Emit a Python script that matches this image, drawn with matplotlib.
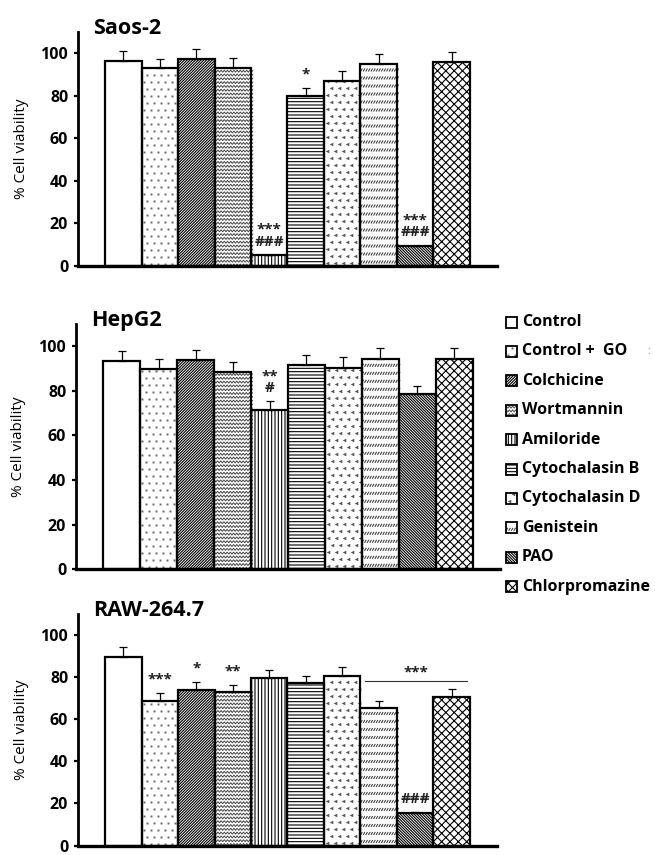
import matplotlib
matplotlib.use('Agg')
import matplotlib.pyplot as plt
import numpy as np
from matplotlib.transforms import Affine2D
from matplotlib.collections import LineCollection
from matplotlib.lines import Line2D
from matplotlib.patches import Rectangle

plt.rcParams['font.family'] = ['Open Sans', 'DejaVu Sans']
plt.rcParams['font.weight'] = 'bold'
plt.rcParams['hatch.linewidth'] = 0.8

treatments = ['Control', 'Control +  GO', 'Colchicine', 'Wortmannin', 'Amiloride',
              'Cytochalasin B', 'Cytochalasin D', 'Genistein', 'PAO', 'Chlorpromazine']

saos_mean = [96.4, 92.8, 97.2, 93.1, 5.2, 80.0, 86.9, 94.7, 9.5, 95.9]
saos_sd = [4.6, 4.4, 4.7, 4.7, 0.0, 3.7, 4.6, 4.7, 0.0, 4.7]
hepg2_mean = [93.3, 89.6, 93.6, 88.4, 71.5, 91.5, 90.3, 94.3, 78.5, 94.2]
hepg2_sd = [4.5, 4.6, 4.5, 4.3, 3.7, 4.6, 4.8, 4.8, 3.6, 4.8]
raw_mean = [89.5, 68.5, 73.7, 72.6, 79.5, 77.2, 80.6, 65.4, 15.5, 70.3]
raw_sd = [4.4, 3.8, 3.8, 3.7, 3.9, 3.4, 3.9, 3.0, 0.4, 3.8]

# significance marks: (bar index, label)
saos_marks = [(4, '***\n###'), (5, '*'), (8, '***\n###')]
hepg2_marks = [(4, '**\n#')]
raw_marks = [(1, '***'), (2, '*'), (3, '**'), (8, '###')]
raw_group = (7, 9, '***')

# fill style per treatment: matplotlib hatch or a hand-drawn texture
styles = [None, 'dots', '/' * 12, 'zigzag', '|||||', '-----', 'chevron', 'slashrows',
          '\\' * 12, 'xxxx']
CUSTOM = ('dots', 'chevron', 'zigzag', 'slashrows')

W, H = 655, 855
fig = plt.figure(figsize=(W / 100, H / 100), dpi=100)
PX = Affine2D().scale(0.01) + fig.dpi_scale_trans   # pixel coords, origin bottom-left


def add_lines(target, segs, clip, color, lw):
    lc = LineCollection(segs, colors=color, linewidths=lw, transform=PX, zorder=1.5)
    lc.set_clip_path(clip)
    if hasattr(target, 'add_collection'):
        target.add_collection(lc, autolim=False)
    else:
        target.add_artist(lc)


def add_marks(target, xs, ys, clip, marker, ms, color):
    ln = Line2D(xs, ys, ls='none', marker=marker, ms=ms, color=color, mew=0,
                transform=PX, zorder=1.5)
    ln.set_clip_path(clip)
    target.add_artist(ln)


def texture(target, kind, clip, x0, x1, y0, y1):
    if kind == 'dots':
        xs, ys = [], []
        for j, y in enumerate(np.arange(y0 + 2, y1, 7.0)):
            for x in np.arange(x0 + 2 + 3.5 * (j % 2), x1, 7.0):
                xs.append(x); ys.append(y)
        add_marks(target, xs, ys, clip, 's', 1.4, '#666666')
    elif kind == 'chevron':
        xs, ys = [], []
        for j, y in enumerate(np.arange(y0 + 3, y1, 7.0)):
            for x in np.arange(x0 + 3 + 4 * (j % 2), x1, 8.0):
                xs.append(x); ys.append(y)
        add_marks(target, xs, ys, clip, '<', 2.6, '#555555')
    elif kind == 'zigzag':
        segs = []
        xx = np.arange(x0 - 3, x1 + 3, 1.6)
        for y in np.arange(y0 + 1, y1, 3.8):
            yy = y + 1.0 * (-1) ** np.arange(len(xx))
            segs.append(np.column_stack([xx, yy]))
        add_lines(target, segs, clip, '#444444', 0.7)
    elif kind == 'slashrows':
        segs = []
        for y in np.arange(y0 + 4, y1, 8.0):
            for x in np.arange(x0, x1, 2.6):
                segs.append([(x, y - 1.5), (x + 1.8, y + 1.5)])
        add_lines(target, segs, clip, '#444444', 0.8)


def panel(rect, name, mean, sd, marks, group=None):
    ax = fig.add_axes(rect)
    ax.set_xlim(-1.24, 10.24)
    ax.set_ylim(0, 110)
    x = np.arange(len(mean))
    fill = ax.bar(x, mean, width=1.0, color='white', edgecolor='black', linewidth=0,
                  zorder=1)
    for b, h in zip(fill, styles):
        if h and h not in CUSTOM:
            b.set_hatch(h)
    ax.bar(x, mean, width=1.0, fill=False, edgecolor='black', linewidth=1.6, zorder=2)
    ax.errorbar(x, mean, yerr=[np.zeros(len(sd)), sd], fmt='none', ecolor='black',
                elinewidth=0.9, capsize=3, capthick=0.9, zorder=3)

    # hand-drawn textures, in pixel space, clipped to each bar
    for b, kind in zip(fill, styles):
        if kind in CUSTOM:
            (px0, py0), (px1, py1) = ax.transData.transform(
                [(b.get_x(), 0), (b.get_x() + b.get_width(), b.get_height())])
            texture(ax, kind, b, px0, px1, py0, py1)

    for i, s in marks:
        ax.text(i, mean[i] + sd[i] + 3, s, ha='center', va='bottom', fontsize=11,
                linespacing=0.78, color='#222222')
    if group:
        i0, i1, s = group
        y = max(m + e for m, e in zip(mean[i0:i1 + 1], sd[i0:i1 + 1])) + 3.8
        ax.plot([i0 - 0.38, i1 + 0.42], [y, y], color='#333333', lw=0.8, zorder=3)
        ax.text((i0 + i1) / 2 + 0.02, y + 0.8, s, ha='center', va='bottom',
                fontsize=11, color='#222222')

    for side in ('top', 'right'):
        ax.spines[side].set_visible(False)
    ax.spines['left'].set_linewidth(2)
    ax.spines['bottom'].set_linewidth(2.4)
    ax.set_xticks([])
    ax.set_yticks([0, 20, 40, 60, 80, 100])
    ax.tick_params(axis='y', length=3, width=1.6, pad=4, labelsize=11.5)
    ax.set_ylabel('% Cell viability', fontsize=11)
    ax.yaxis.set_label_coords(-0.118, 0.5)
    ax.text(0.036, 1.012, name, transform=ax.transAxes, ha='left', va='center',
            fontsize=15.5)
    return ax


def fr(left, right, top, bottom):
    return [left / W, 1 - bottom / H, (right - left) / W, (bottom - top) / H]


panel(fr(78, 497, 31.7, 266), 'Saos-2', saos_mean, saos_sd, saos_marks)
panel(fr(76, 500, 323.7, 569.3), 'HepG2', hepg2_mean, hepg2_sd, hepg2_marks)
panel(fr(78, 497, 613.5, 845.5), 'RAW-264.7', raw_mean, raw_sd, raw_marks, raw_group)

# legend drawn as small textured boxes with labels
for k, (label, kind) in enumerate(zip(treatments, styles)):
    yc = H - (322 + 29.4 * k)
    box = Rectangle((506, yc - 5.5), 11, 11, transform=PX, facecolor='white',
                    edgecolor='black', linewidth=0)
    if kind and kind not in CUSTOM:
        box.set_hatch(kind)
    fig.add_artist(box)
    if kind in CUSTOM:
        texture(fig, kind, box, 506, 517, yc - 5.5, yc + 5.5)
    fig.add_artist(Rectangle((506, yc - 5.5), 11, 11, transform=PX, fill=False,
                             edgecolor='black', linewidth=1.3, zorder=3))
    fig.text(522, yc, label, transform=PX, ha='left', va='center', fontsize=11.5)

fig.text(648, H - 351, ':', transform=PX, ha='left', va='center', fontsize=7,
         color='#aaaaaa')

fig.savefig('out.png', dpi=100)
